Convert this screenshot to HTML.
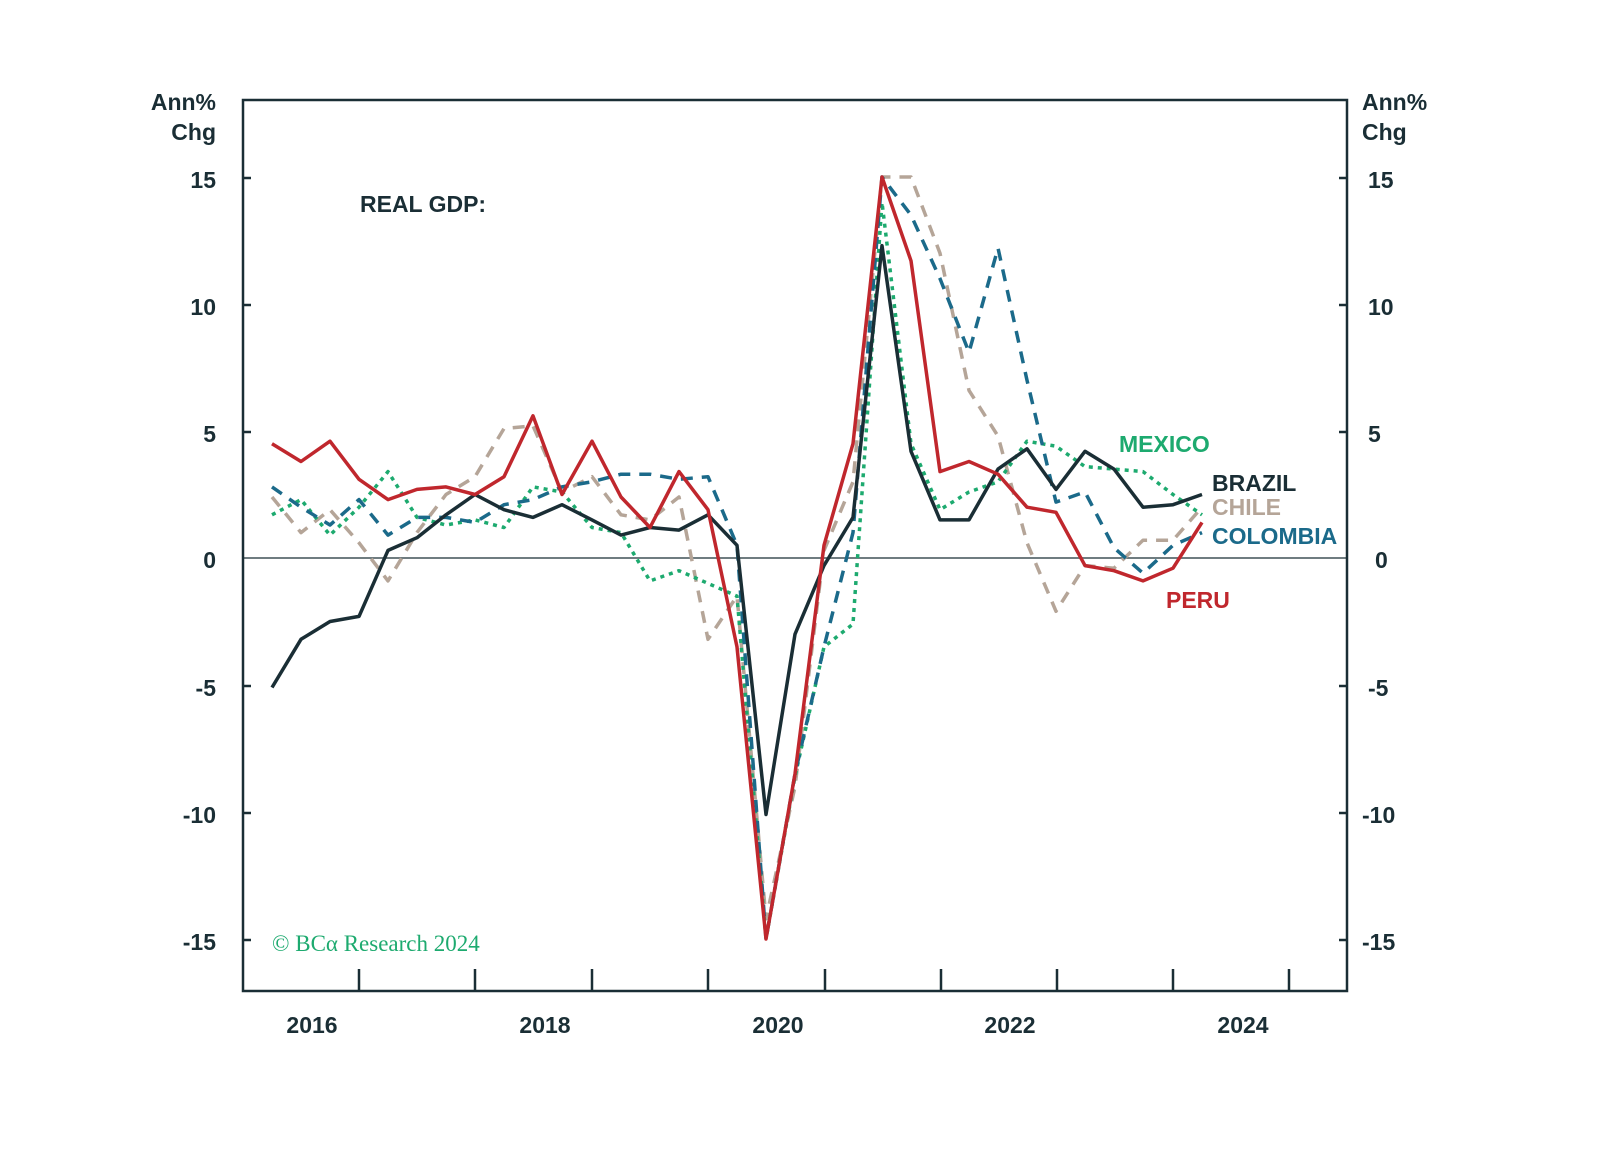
<!DOCTYPE html>
<html><head><meta charset="utf-8"><style>
body{margin:0;background:#fff}
svg text{font-family:"Liberation Sans",sans-serif;font-weight:bold}
</style></head><body>
<svg width="1598" height="1144" viewBox="0 0 1598 1144" xmlns="http://www.w3.org/2000/svg">
<rect width="1598" height="1144" fill="#fff"/>
<line x1="243" y1="558" x2="1347" y2="558" stroke="#6f7c80" stroke-width="2"/>
<g fill="none" stroke-width="3.5" stroke-linejoin="round">
<polyline stroke="#b5a598" stroke-dasharray="12,9" points="272,497 301,532.6 330,509.7 359,542.8 388,580.9 417,532.6 446,494.5 475,476.7 504,428.5 533,425.9 562,492 592,476.7 621,514.8 650,519.9 679,497 708,639.3 737,596.1 766,918.7 795,786.6 824,550.4 853,481.8 882,177 911,177 940,253.2 969,390.4 998,436.1 1027,542.8 1056,611.3 1085,565.6 1114,568.2 1143,540.2 1173,540.2 1202,507.2"/>
<polyline stroke="#1daa6f" stroke-dasharray="4,5" points="272,514.8 301,499.6 330,535.1 359,507.2 388,471.6 417,517.4 446,525 475,519.9 504,527.5 533,486.9 562,492 592,527.5 621,532.6 650,580.9 679,570.7 708,583.4 737,596.1 766,939 795,776.4 824,646.9 853,624 882,202.4 911,443.7 940,509.7 969,492 998,481.8 1027,441.2 1056,446.2 1085,466.6 1114,469.1 1143,471.6 1173,494.5 1202,514.8"/>
<polyline stroke="#1b6a8a" stroke-dasharray="12,9" points="272,486.9 301,507.2 330,525 359,499.6 388,535.1 417,517.4 446,517.4 475,522.4 504,504.7 533,499.6 562,486.9 592,481.8 621,474.2 650,474.2 679,479.3 708,476.7 737,545.3 766,939 795,773.9 824,646.9 853,532.6 882,177 911,215.1 940,278.6 969,352.3 998,248.1 1027,380.2 1056,502.1 1085,492 1114,547.8 1143,573.2 1173,545.3 1202,532.6"/>
<polyline stroke="#1a2e35" points="272,687.5 301,639.3 330,621.5 359,616.4 388,550.4 417,537.7 446,514.8 475,494.5 504,509.7 533,517.4 562,504.7 592,519.9 621,535.1 650,527.5 679,530.1 708,514.8 737,545.3 766,814.5 795,634.2 824,565.6 853,517.4 882,245.6 911,451.3 940,519.9 969,519.9 998,469.1 1027,448.8 1056,489.4 1085,451.3 1114,469.1 1143,507.2 1173,504.7 1202,494.5"/>
<polyline stroke="#c0272d" points="272,443.7 301,461.5 330,441.2 359,479.3 388,499.6 417,489.4 446,486.9 475,494.5 504,476.7 533,415.8 562,494.5 592,441.2 621,497 650,527.5 679,471.6 708,509.7 737,646.9 766,939 795,773.9 824,545.3 853,443.7 882,177 911,260.8 940,471.6 969,461.5 998,474.2 1027,507.2 1056,512.3 1085,565.6 1114,570.7 1143,580.9 1173,568.2 1202,522.4"/>
</g>
<rect x="243" y="100" width="1104" height="891" fill="none" stroke="#1a2e35" stroke-width="2.5"/>
<g stroke="#1a2e35" stroke-width="2.5">
<line x1="243" y1="178" x2="251" y2="178"/><line x1="243" y1="305" x2="251" y2="305"/><line x1="243" y1="432" x2="251" y2="432"/><line x1="243" y1="686" x2="251" y2="686"/><line x1="243" y1="813" x2="251" y2="813"/><line x1="243" y1="940" x2="251" y2="940"/>
<line x1="1339" y1="178" x2="1347" y2="178"/><line x1="1339" y1="305" x2="1347" y2="305"/><line x1="1339" y1="432" x2="1347" y2="432"/><line x1="1339" y1="686" x2="1347" y2="686"/><line x1="1339" y1="813" x2="1347" y2="813"/><line x1="1339" y1="940" x2="1347" y2="940"/>
<line x1="359" y1="969" x2="359" y2="991"/><line x1="475" y1="969" x2="475" y2="991"/><line x1="592" y1="969" x2="592" y2="991"/><line x1="708" y1="969" x2="708" y2="991"/><line x1="825" y1="969" x2="825" y2="991"/><line x1="941" y1="969" x2="941" y2="991"/><line x1="1057" y1="969" x2="1057" y2="991"/><line x1="1173" y1="969" x2="1173" y2="991"/><line x1="1289" y1="969" x2="1289" y2="991"/>
</g>
<g font-size="23" fill="#1a2e35" text-anchor="end">
<text x="216" y="110">Ann%</text><text x="216" y="140">Chg</text>
<text x="216" y="188">15</text><text x="216" y="315">10</text><text x="216" y="442">5</text><text x="216" y="568">0</text><text x="216" y="696">-5</text><text x="216" y="823">-10</text><text x="216" y="950">-15</text>
</g>
<g font-size="23" fill="#1a2e35" text-anchor="start">
<text x="1362" y="110">Ann%</text><text x="1362" y="140">Chg</text>
<text x="1368" y="188">15</text><text x="1368" y="315">10</text><text x="1368" y="442">5</text><text x="1375" y="568">0</text><text x="1368" y="696">-5</text><text x="1362" y="823">-10</text><text x="1362" y="950">-15</text>
</g>
<g font-size="23" fill="#1a2e35" text-anchor="middle">
<text x="312" y="1033">2016</text><text x="545" y="1033">2018</text><text x="778" y="1033">2020</text><text x="1010" y="1033">2022</text><text x="1243" y="1033">2024</text>
</g>
<text x="360" y="212" font-size="23" fill="#1a2e35">REAL GDP:</text>
<text x="272" y="951" font-size="23" fill="#1daa6f" style="font-family:'Liberation Serif',serif;font-weight:normal">© BCα Research 2024</text>
<text x="1119" y="452" font-size="23" fill="#1daa6f">MEXICO</text>
<text x="1212" y="491" font-size="23" fill="#1a2e35">BRAZIL</text>
<text x="1212" y="515" font-size="23" fill="#b5a598">CHILE</text>
<text x="1212" y="544" font-size="23" fill="#1b6a8a">COLOMBIA</text>
<text x="1166" y="608" font-size="23" fill="#c0272d">PERU</text>
</svg>
</body></html>
